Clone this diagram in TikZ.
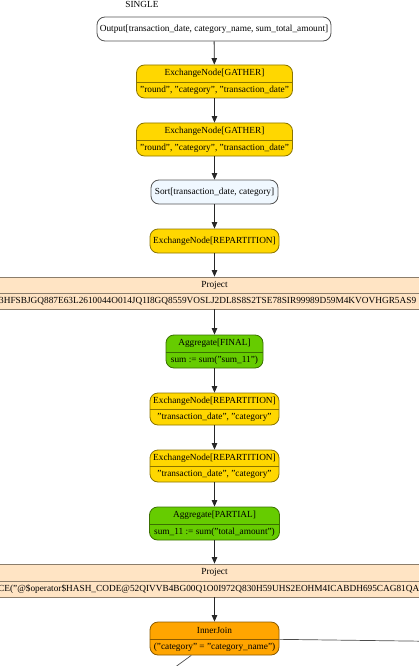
\documentclass[tikz,border=0pt]{standalone}
\usepackage{fontspec}
\setmainfont{Liberation Serif}
\usetikzlibrary{arrows.meta}
\definecolor{goldfill}{HTML}{FFD700}
\definecolor{goldline}{HTML}{8B7500}
\definecolor{greenfill}{HTML}{66CC00}
\definecolor{greenline}{HTML}{3A7000}
\definecolor{orangefill}{HTML}{FFA500}
\definecolor{orangeline}{HTML}{8B5A00}
\definecolor{bisquefill}{HTML}{FFE4C4}
\definecolor{bisqueline}{HTML}{8B7D6B}
\definecolor{alicefill}{HTML}{F0F8FF}
\definecolor{grayline}{HTML}{555555}
\tikzset{
  txt/.style={inner sep=0pt, font=\fontsize{9.3}{11}\selectfont},
  boxbase/.style={inner sep=0pt, line width=0.8pt, rounded corners=8pt, font=\fontsize{9.3}{11}\selectfont},
  whitebox/.style={boxbase, draw=grayline, fill=white},
  alicebox/.style={boxbase, draw=grayline, fill=alicefill},
  goldbox/.style={boxbase, draw=goldline, fill=goldfill},
  greenbox/.style={boxbase, draw=greenline, fill=greenfill},
  orangebox/.style={boxbase, draw=orangeline, fill=orangefill},
  projbox/.style={boxbase, rounded corners=0pt, draw=bisqueline, fill=bisquefill},
  edge/.style={draw=black!85, line width=0.8pt, -{Triangle[length=6.5pt,width=5.5pt]}},
  freeedge/.style={draw=black!70, line width=0.7pt},
}
% #1 name, #2 style, #3 cx, #4 top, #5 split, #6 bottom, #7 width, #8 title, #9 line
\newcommand{\planbox}[9]{%
  \node[#2, minimum width=#7, minimum height={#6-#4}] (#1) at (#3,{(#4+#6)/2}) {};
  \path[#2, fill=none] (#1.west |- 0,#5) -- (#1.east |- 0,#5);
  \node[txt] (#1-t) at (#3,{(#4+#5)/2}) {#8};
  \node[txt] (#1-b) at (#3,{(#5+#6)/2}) {#9};
}
\begin{document}
\begin{tikzpicture}[x=1pt,y=-1pt]
\useasboundingbox (0,0) rectangle (419,666);
\node[txt, anchor=base] (single) at (142,7.5) {SINGLE};
\node[whitebox, minimum width=234, minimum height=24] (out) at (214,29) {Output[transaction\_date, category\_name, sum\_total\_amount]};
\planbox{g1}{goldbox}{214.5}{65}{82}{98}{156}{ExchangeNode[GATHER]}{"round", "category", "transaction\_date"}
\planbox{g2}{goldbox}{214.5}{123}{140}{156}{156}{ExchangeNode[GATHER]}{"round", "category", "transaction\_date"}
\node[alicebox, minimum width=127, minimum height=24] (sort) at (214.5,192) {Sort[transaction\_date, category]};
\node[goldbox, minimum width=129, minimum height=24] (r1) at (214.5,241) {ExchangeNode[REPARTITION]};
\planbox{p1}{projbox}{214.5}{277}{293}{309}{640}{Project}{}
\node[txt, anchor=west] (p1-line) at (-1,301) {3HFSBJGQ887E63L2610044O014JQ1I8GQ8559VOSLJ2DL8S8S2TSE78SIR99989D59M4KVOVHGR5AS9};
\planbox{af}{greenbox}{214.5}{335}{352}{368}{97}{Aggregate[FINAL]}{sum := sum("sum\_11")}
\planbox{r2}{goldbox}{214.5}{393}{409}{425}{129}{ExchangeNode[REPARTITION]}{"transaction\_date", "category"}
\planbox{r3}{goldbox}{214.5}{450}{466}{482}{129}{ExchangeNode[REPARTITION]}{"transaction\_date", "category"}
\planbox{ap}{greenbox}{214.5}{507}{524}{540}{130}{Aggregate[PARTIAL]}{sum\_11 := sum("total\_amount")}
\planbox{p2}{projbox}{214.5}{564}{581}{597}{640}{Project}{}
\node[txt, anchor=west] (p2-line) at (-2,589) {CE("@\$operator\$HASH\_CODE@52QIVVB4BG00Q1O0I972Q830H59UHS2EOHM4ICABDH695CAG81QA};
\planbox{ij}{orangebox}{214.5}{622}{639}{655}{129}{InnerJoin}{("category" = "category\_name")}
\coordinate (jr) at (560,643);
\coordinate (jl) at (156,681);
\draw[edge] (out) -- (g1);
\draw[edge] (g1) -- (g2);
\draw[edge] (g2) -- (sort);
\draw[edge] (sort) -- (r1);
\draw[edge] (r1) -- (p1);
\draw[edge] (p1) -- (af);
\draw[edge] (af) -- (r2);
\draw[edge] (r2) -- (r3);
\draw[edge] (r3) -- (ap);
\draw[edge] (ap) -- (p2);
\draw[edge] (p2) -- (ij);
\draw[freeedge] (ij) -- (jr);
\draw[freeedge] (ij) -- (jl);
\end{tikzpicture}
\end{document}
